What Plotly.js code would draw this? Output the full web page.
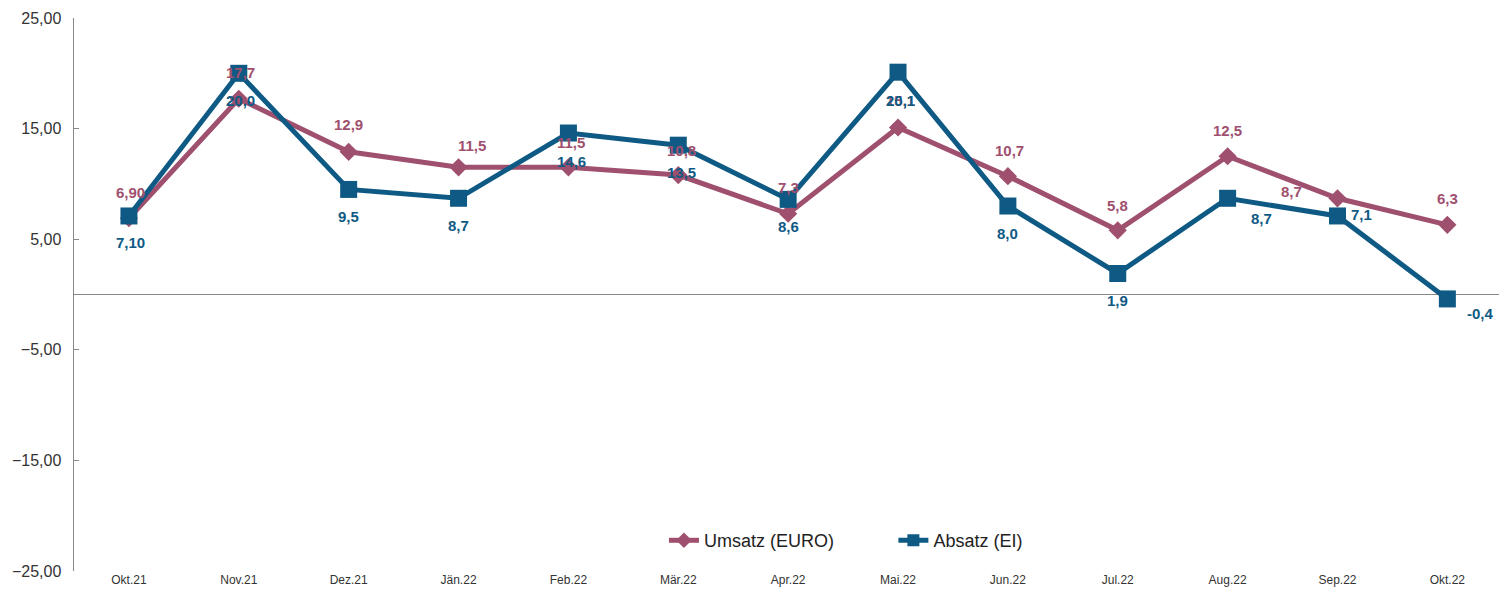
<!DOCTYPE html>
<html>
<head>
<meta charset="utf-8">
<script src="https://cdn.plot.ly/plotly-3.0.1.min.js"></script>
<style>html,body{margin:0;padding:0;background:#fff;}#chart{width:1499px;height:593px;}</style>
</head>
<body>
<div id="chart"></div>
<script>
const categories = ["Okt.21","Nov.21","Dez.21","Jän.22","Feb.22","Mär.22","Apr.22","Mai.22","Jun.22","Jul.22","Aug.22","Sep.22","Okt.22"];
const umsatz = [6.9, 17.7, 12.9, 11.5, 11.5, 10.8, 7.3, 15.1, 10.7, 5.8, 12.5, 8.7, 6.3];
const absatz = [7.1, 20.0, 9.5, 8.7, 14.6, 13.5, 8.6, 20.1, 8.0, 1.9, 8.7, 7.1, -0.4];
const umsatzLabels = ["6,90","17,7","12,9","11,5","11,5","10,8","7,3","15,1","10,7","5,8","12,5","8,7","6,3"];
const absatzLabels = ["7,10","20,0","9,5","8,7","14,6","13,5","8,6","20,1","8,0","1,9","8,7","7,1","-0,4"];

// label offsets in pixels (placement only)
const umsatzDx = [2, 2, 0, 13, 3, 3, 0, 2, 2, 0, 0, -46, 0];
const umsatzDy = [26, 26, 27, 22, 25, 25, 26, 27, 26, 25, 26, 7, 26];
const absatzDx = [2, 2, 0, 0, 3, 3, 0, 2, 0, 0, 34, 24, 33];
const absatzDy = [-27, -27, -27, -27, -28, -27, -27, -28, -27, -27, -20, 1, -15];

const cMag = "#A0506F";
const cBlue = "#0F5A84";
const lblFont = "Liberation Sans, Arial, sans-serif";

const traces = [
  {
    x: categories, y: umsatz, name: "Umsatz (EURO)", type: "scatter",
    mode: "lines+markers",
    line: {color: cMag, width: 5},
    marker: {symbol: "diamond", size: 14, color: cMag},
    legend: "legend"
  },
  {
    x: categories, y: absatz, name: "Absatz (EI)", type: "scatter",
    mode: "lines+markers",
    line: {color: cBlue, width: 5},
    marker: {symbol: "square", size: 17, color: cBlue},
    legend: "legend2"
  }
];

const annotations = [];
categories.forEach((c, i) => {
  annotations.push({
    x: c, y: umsatz[i], xref: "x", yref: "y", text: umsatzLabels[i], showarrow: false,
    xshift: umsatzDx[i], yshift: umsatzDy[i],
    font: {family: lblFont, size: 15, color: cMag, weight: "bold"}
  });
});
categories.forEach((c, i) => {
  annotations.push({
    x: c, y: absatz[i], xref: "x", yref: "y", text: absatzLabels[i], showarrow: false,
    xshift: absatzDx[i], yshift: absatzDy[i],
    font: {family: lblFont, size: 15, color: cBlue, weight: "bold"}
  });
});

const legendCommon = {
  orientation: "h", yanchor: "middle", y: 0.055, xanchor: "left",
  font: {size: 18, color: "#222", family: lblFont}, bgcolor: "rgba(0,0,0,0)",
  itemsizing: "constant"
};

const layout = {
  width: 1499, height: 593,
  margin: {l: 74, r: 0, t: 18, b: 22},
  paper_bgcolor: "#fff", plot_bgcolor: "#fff",
  font: {family: lblFont, color: "#333"},
  showlegend: true,
  legend: Object.assign({}, legendCommon, {x: 0.414}),
  legend2: Object.assign({}, legendCommon, {x: 0.575}),
  xaxis: {
    type: "category", range: [-0.5, 12.47],
    showgrid: false, zeroline: false, showline: false, ticks: "",
    tickfont: {size: 12, color: "#333"}
  },
  yaxis: {
    range: [-25, 25], tick0: -25, dtick: 10,
    tickformat: ".2f",
    showgrid: false, zeroline: true, zerolinecolor: "#888", zerolinewidth: 1.5,
    showline: true, linecolor: "#888", linewidth: 1.5,
    ticks: "inside", ticklen: 5, tickcolor: "#888",
    tickfont: {size: 16, color: "#333"}, ticklabelstandoff: 8
  },
  annotations: annotations,
  separators: ",."
};

Plotly.newPlot("chart", traces, layout, {displayModeBar: false, staticPlot: true});
</script>
</body>
</html>
